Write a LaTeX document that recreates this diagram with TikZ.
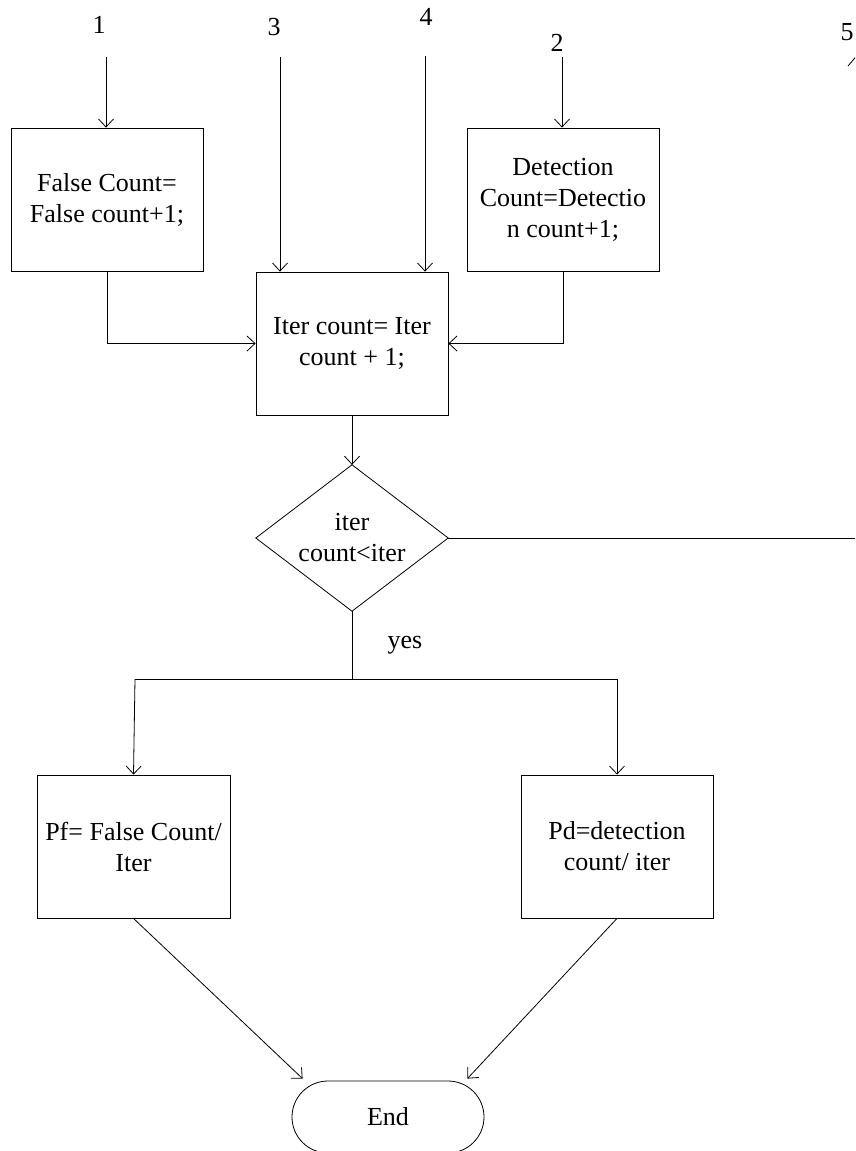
\documentclass[tikz,border=0pt]{standalone}
\usepackage{fontspec}
\setmainfont{Liberation Serif}
\usetikzlibrary{arrows.meta}
\begin{document}
\begin{tikzpicture}[x=1pt,y=-1pt,
  every node/.style={font=\fontsize{26}{31}\selectfont},
  proc/.style={draw,line width=0.8pt,rectangle,inner sep=0pt,
    minimum width=192pt,minimum height=143pt,align=center},
  lbl/.style={anchor=base,inner sep=0pt},
  line/.style={line width=0.8pt},
  arr/.style={line width=0.8pt,-{Straight Barb[length=8pt,width=15pt,line width=0.8pt]}}]
\useasboundingbox (0,0) rectangle (855,1151);
\clip (0,0) rectangle (855,1151);

% entry labels and their arrows
\node[lbl] (l1) at (99,33) {1};
\node[lbl] (l3) at (274,35) {3};
\node[lbl] (l4) at (426,25) {4};
\node[lbl] (l2) at (557,51) {2};
\node[lbl] (l5) at (847,40) {5};
\coordinate (s1) at (106,57);
\coordinate (s3) at (280,57);
\coordinate (s4) at (425,56);
\coordinate (s2) at (562,57);
\coordinate (s5a) at (848,66);
\coordinate (s5b) at (860,52);

% process boxes
\node[proc] (false) at (107,199.5) {False Count=\\False count+1;};
\node[proc] (det) at (563,199.5) {Detection\\Count=Detectio\\n count+1;};
\node[proc] (iter) at (352,343.5) {Iter count= Iter\\count + 1;};

% decision
\node[inner sep=0pt,minimum width=192pt,minimum height=146pt,align=center]
  (dec) at (352,538) {iter\\count<iter};
\draw[line] (dec.north) -- (dec.east) -- (dec.south) -- (dec.west) -- cycle;

\node[proc,minimum width=193pt] (pf) at (133.5,846.5) {Pf= False Count/\\Iter};
\node[proc] (pd) at (617,846.5) {Pd=detection\\count/ iter};
\node[draw,line width=0.8pt,rectangle,rounded corners=36pt,inner sep=0pt,
  minimum width=192pt,minimum height=72pt] (end) at (388,1117) {End};

\node[lbl] (yes) at (405,648) {yes};

% connectors
\draw[arr] (s1) -- (false.north -| s1);
\draw[arr] (s3) -- (iter.north -| s3);
\draw[arr] (s4) -- (iter.north -| s4);
\draw[arr] (s2) -- (det.north -| s2);
\draw[line] (s5a) -- (s5b);

\draw[arr] (false.south) |- (iter.west);
\draw[arr] (det.south) |- (iter.east);
\draw[arr] (iter.south) -- (dec.north);

\coordinate (out5) at (860,538);
\draw[line] (dec.east) -- (out5);

\coordinate (split) at (352,679);
\coordinate (lft) at (135,679);
\coordinate (rgt) at (617,679);
\draw[line] (dec.south) -- (split);
\draw[line] (lft) -- (rgt);
\draw[arr] (lft) -- (pf.north);
\draw[arr] (rgt) -- (pd.north);

\draw[arr] (pf.south) -- ([xshift=11pt,yshift=2pt]end.north west);
\draw[arr] (pd.south) -- ([xshift=-17pt,yshift=2pt]end.north east);
\end{tikzpicture}
\end{document}
